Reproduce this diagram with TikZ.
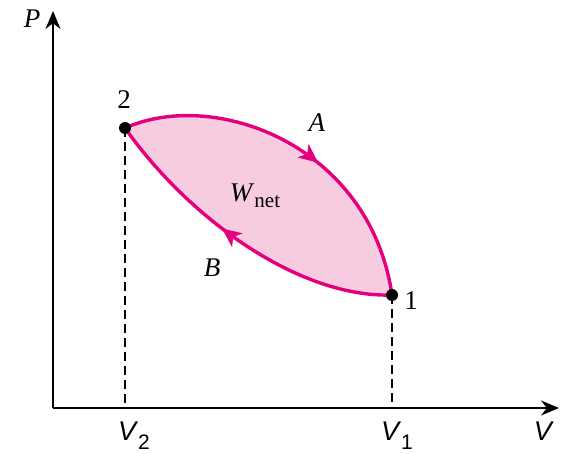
\documentclass[tikz,border=0pt]{standalone}
\usepackage{fontspec}
\setmainfont{Liberation Serif}
\newfontfamily\vsans{Liberation Sans}
\usetikzlibrary{arrows.meta,decorations.markings}
\definecolor{mag}{HTML}{E4007C}
\definecolor{pinkfill}{HTML}{F8CCE0}
\tikzset{
  axis/.style={line width=1.5pt,-{Stealth[length=18pt,width=15pt]}},
  cyc/.style={mag,line width=3.4pt},
  guide/.style={line width=1.1pt,dash pattern=on 9pt off 5pt},
  dot/.style={circle,fill=black,inner sep=0pt,minimum size=12pt},
  lbl/.style={font=\fontsize{27}{31}\selectfont,inner sep=0pt},
  vlbl/.style={font=\fontsize{27}{31}\selectfont\vsans,inner sep=0pt},
  midarrow/.style={postaction={decorate},decoration={markings,
    mark=at position #1 with {\arrow{Stealth[length=19pt,width=17pt,inset=5pt]}}}}
}
\newcommand{\vsub}[1]{\textit{V}\raisebox{-9pt}{\fontsize{21}{24}\selectfont #1}}
\begin{document}
\begin{tikzpicture}[x=1pt,y=-1pt]
\useasboundingbox (0,0) rectangle (567,454);
% points
\coordinate (O) at (53,408);
\coordinate (Ptop) at (53,11);
\coordinate (Vend) at (559,408);
\coordinate (p2) at (125,128);
\coordinate (p1) at (392,295);
\coordinate (b2) at (125,408);
\coordinate (b1) at (392,408);
% fill
\fill[pinkfill] (p2) .. controls (215,88) and (370,145) .. (p1)
  .. controls (300,298) and (190,220) .. (p2) -- cycle;
% dashed guides
\draw[guide] (p2) -- (b2);
\draw[guide] (p1) -- (b1);
% axes
\draw[axis] (O) -- (Ptop);
\draw[axis] (O) -- (Vend);
% curves
\draw[cyc,midarrow=0.57] (p2) .. controls (215,88) and (370,145) .. (p1);
\draw[cyc,midarrow=0.57] (p1) .. controls (300,298) and (190,220) .. (p2);
% dots
\node[dot] (n2) at (p2) {};
\node[dot] (n1) at (p1) {};
% labels
\node[lbl] (lP) at (32,19) {\textit{P}};
\node[vlbl] (lV) at (544,431) {\textit{V}};
\node[vlbl] (lV1) at (397,436) {\vsub{1}};
\node[vlbl] (lV2) at (134,436) {\vsub{2}};
\node[lbl] (l2) at (124,100) {2};
\node[lbl] (l1) at (411,301) {1};
\node[lbl] (lA) at (317,123) {\textit{A}};
\node[lbl] (lB) at (212,268) {\textit{B}};
\node[lbl] (lW) at (255,196) {\textit{W}\raisebox{-6pt}{\fontsize{21}{24}\selectfont net}};
\end{tikzpicture}
\end{document}
